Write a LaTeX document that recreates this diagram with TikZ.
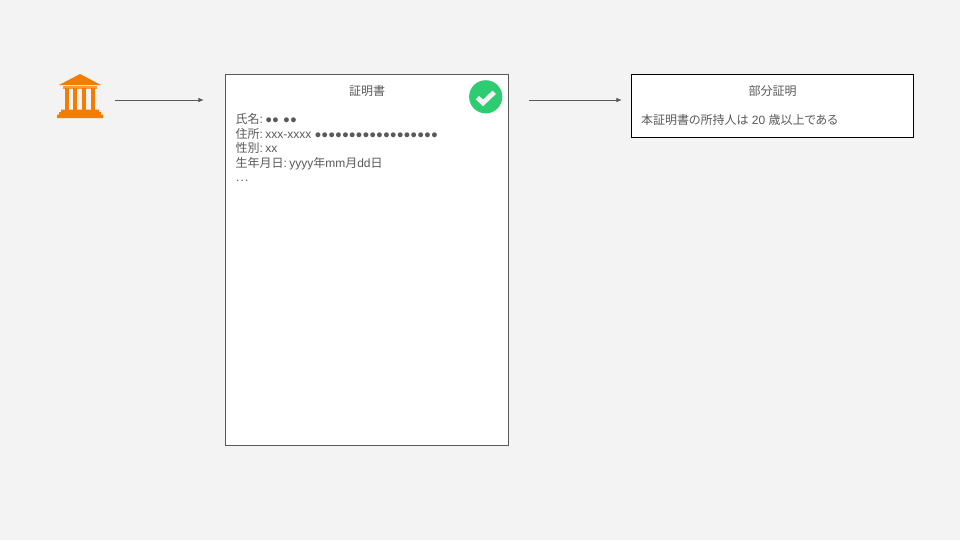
\documentclass[tikz,border=0pt]{standalone}
\usepackage{fontspec}
\setmainfont{Liberation Sans}
\newfontfamily\cjk{Noto Sans CJK JP}
\newfontfamily\cjkp[RawFeature=+palt]{Noto Sans CJK JP}
\newcommand{\jp}[1]{{\cjk #1}}
\newcommand{\jpp}[1]{{\cjkp #1}}
\newcommand{\dotsrun}[1]{{\fontsize{8.5pt}{10.9pt}\selectfont #1}}
\newcommand{\cs}{:\kern-0.7pt\ }
\definecolor{bgc}{HTML}{F3F3F3}
\definecolor{ink}{HTML}{595959}
\definecolor{orangeic}{HTML}{F57C00}
\definecolor{greenic}{HTML}{2ECC71}
\usetikzlibrary{arrows.meta}
\tikzset{
  x=0.75pt,y=-0.75pt,
  txt/.style={text=ink,font=\fontsize{9pt}{10.9pt}\selectfont,inner sep=0pt},
  conn/.style={draw=ink,line width=0.7pt,-{Latex[length=4.2pt,width=3.4pt]}},
  card/.style={fill=white,line width=0.75pt},
}
\begin{document}
\begin{tikzpicture}
\useasboundingbox (0,0) rectangle (960,540);
\fill[bgc] (0,0) rectangle (960,540);
% icon
\fill[orangeic] (80,74) -- (101,85) -- (59,85) -- cycle;
\fill[orangeic!75!bgc] (63,85.8) rectangle (97,88.6);
\foreach \cx in {64.5,73,82,90.8}{\fill[orangeic] (\cx,88) rectangle ++(4.2,22);}
\fill[orangeic] (61,109.5) -- (99,109.5) -- (99,112) -- (101,112) -- (101,114.5) -- (103,114.5) -- (103,118) -- (57,118) -- (57,114.5) -- (59,114.5) -- (59,112) -- (61,112) -- cycle;
% boxes
\draw[ink,card] (225.5,74.5) rectangle (508.5,445.5);
\draw[black,card] (631.5,74.5) rectangle (913.5,137.5);
% check
\fill[greenic] (485.7,96.8) circle (16.6);
\draw[bgc,line width=3.6pt] (477.4,97.6) -- (483,103) -- (494.2,92.3);
% connectors
\coordinate (a1) at (114.5,100);
\coordinate (a2) at (204,100);
\coordinate (b1) at (529,100);
\coordinate (b2) at (622,100);
\draw[conn] (a1) -- (a2);
\draw[conn] (b1) -- (b2);
% text
\node[txt,anchor=base] (t1) at (367,95) {\jp{証明書}};
\node[txt,anchor=base west] (l1) at (235.3,123.5) {\jp{氏名}\cs\dotsrun{●●\kern0.8pt\ ●●}};
\node[txt,anchor=base west] (l2) at (235.3,138) {\jp{住所}\cs xxx-xxxx \dotsrun{●●●●●●●●●●●●●●●●●●}};
\node[txt,anchor=base west] (l3) at (235.3,152.5) {\jp{性別}\cs xx};
\node[txt,anchor=base west] (l4) at (235.3,167) {\jp{生年月日}\cs yyyy\jp{年}mm\jp{月}dd\jp{日}};
\node[txt,anchor=base west] (l5) at (235.8,181.5) {.\kern0.9pt.\kern0.9pt.};
\node[txt,anchor=base] (t2) at (772.7,95) {\jp{部分証明}};
\node[txt,anchor=base west] (m1) at (640.8,124) {\jp{本証明書}\jpp{の}\jp{所持人}\jpp{は} 20 \jp{歳以上}\jpp{である}};
\end{tikzpicture}
\end{document}
